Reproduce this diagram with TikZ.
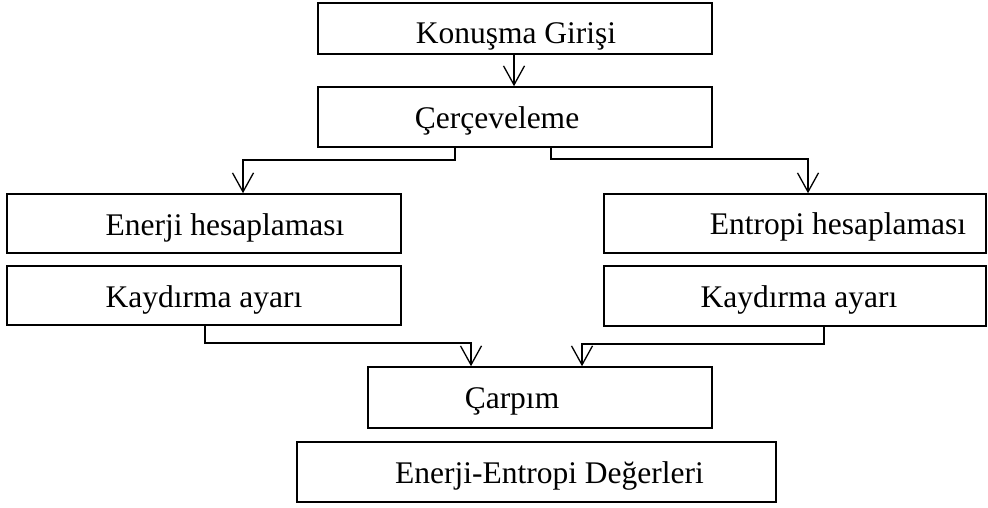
\documentclass[tikz,border=0pt]{standalone}
\usepackage{fontspec}
\setmainfont{Liberation Serif}
\usetikzlibrary{arrows.meta}
\begin{document}
\begin{tikzpicture}[x=1pt,y=-1pt,
  box/.style={draw=black,line width=1.6pt,rectangle,inner sep=0pt},
  lbl/.style={anchor=base,inner sep=0pt,font=\fontsize{31.5}{36}\selectfont},
  conn/.style={draw=black,line width=1.6pt,-{Straight Barb[length=19pt,width=21pt,line width=1.3pt]}}]
\useasboundingbox (0,0) rectangle (988,507);
% boxes
\node[box,minimum width=394pt,minimum height=51pt] (b1) at (515,28.5) {};
\node[box,minimum width=394pt,minimum height=60pt] (b2) at (515,117) {};
\node[box,minimum width=394pt,minimum height=59pt] (b3) at (204,223.5) {};
\node[box,minimum width=382pt,minimum height=59pt] (b4) at (795,223.5) {};
\node[box,minimum width=394pt,minimum height=59pt] (b5) at (204,295.5) {};
\node[box,minimum width=382pt,minimum height=60pt] (b6) at (795,296) {};
\node[box,minimum width=344pt,minimum height=61pt] (b7) at (540,397.5) {};
\node[box,minimum width=479pt,minimum height=60pt] (b8) at (536.5,472) {};
% labels
\node[lbl] (t1) at (516,43) {Konuşma Girişi};
\node[lbl] (t2) at (497,128) {Çerçeveleme};
\node[lbl] (t3) at (225,235) {Enerji hesaplaması};
\node[lbl] (t4) at (838,234) {Entropi hesaplaması};
\node[lbl] (t5) at (204,307) {Kaydırma ayarı};
\node[lbl] (t6) at (799,307) {Kaydırma ayarı};
\node[lbl] (t7) at (512,408) {Çarpım};
\node[lbl] (t8) at (549.5,483) {Enerji-Entropi Değerleri};
% connectors
\draw[conn] ([xshift=-1pt]b1.south) -- ([xshift=-1pt]b2.north);
\draw[conn] ([xshift=-60pt]b2.south) -- ++(0,12) -| ([xshift=39pt]b3.north);
\draw[conn] ([xshift=36pt]b2.south) -- ++(0,11) -| ([xshift=13pt]b4.north);
\draw[conn] ([xshift=1pt]b5.south) -- ++(0,17) -| ([xshift=-69pt]b7.north);
\draw[conn] ([xshift=29pt]b6.south) -- ++(0,17) -| ([xshift=42pt]b7.north);
\end{tikzpicture}
\end{document}
